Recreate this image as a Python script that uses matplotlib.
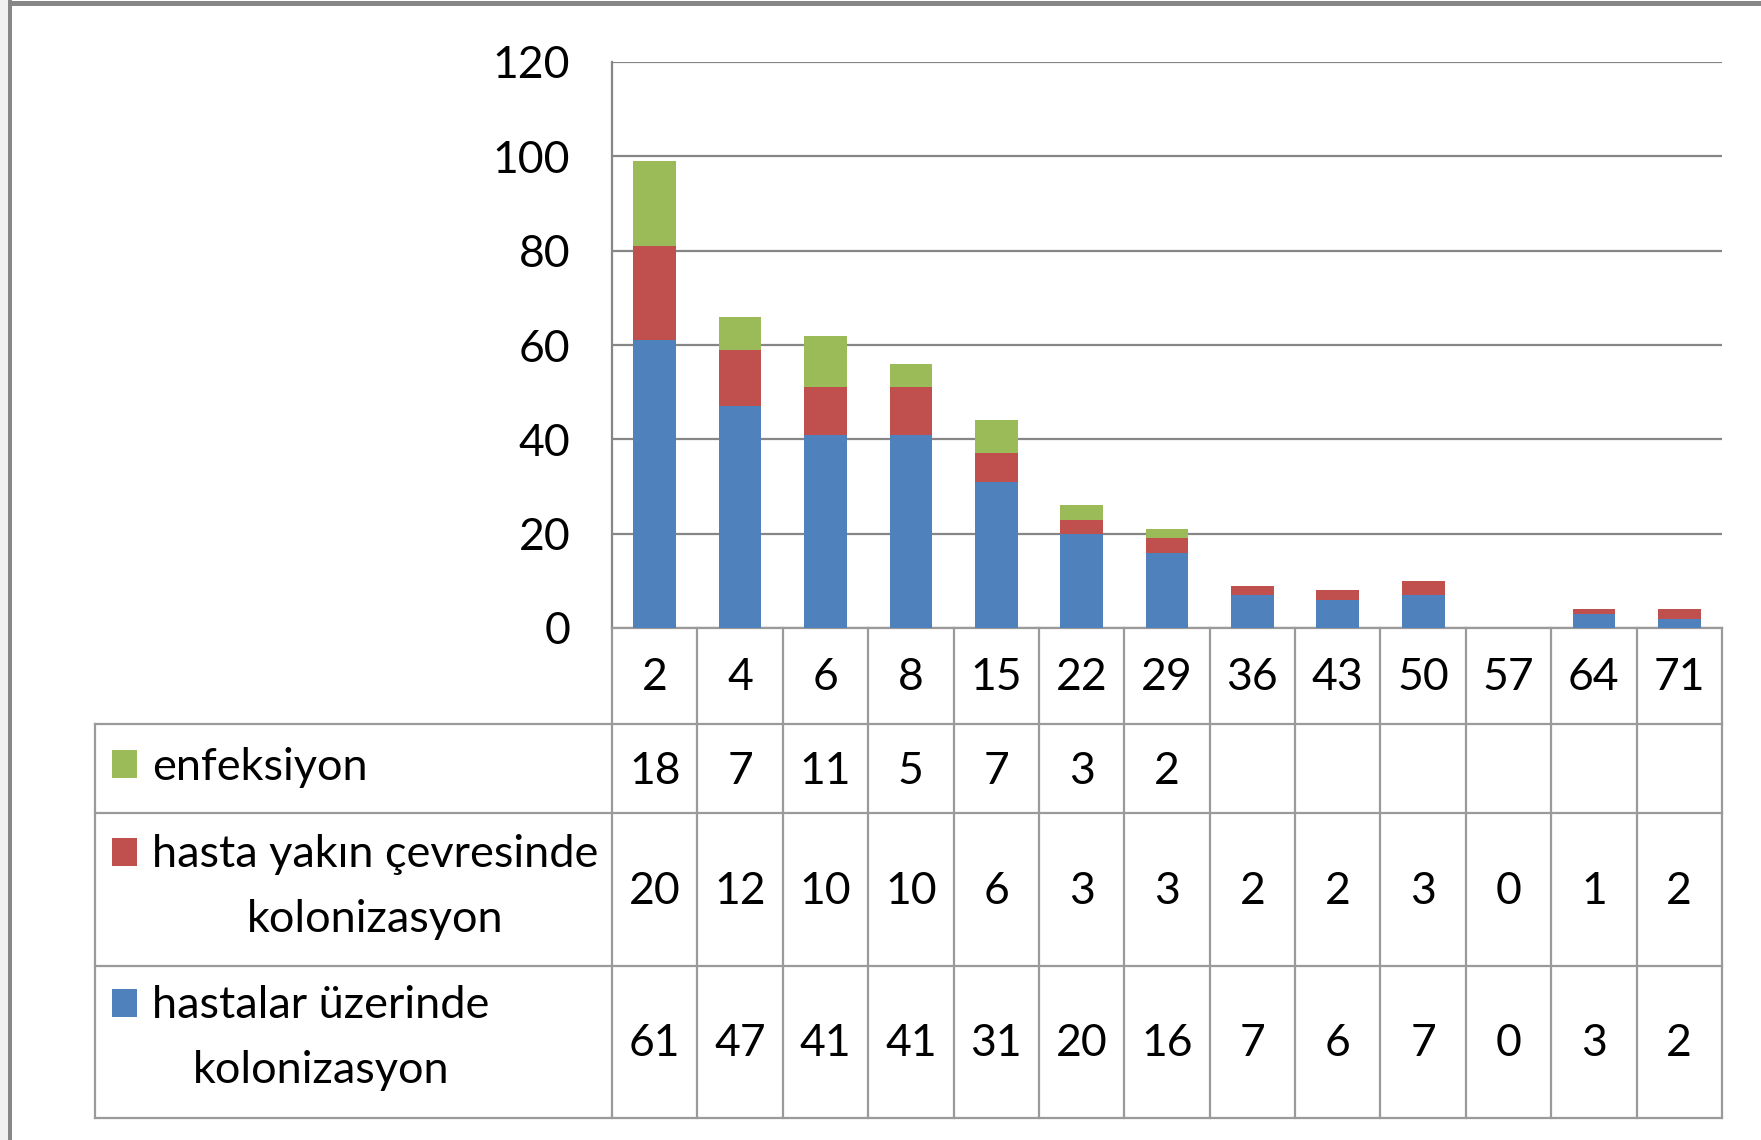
import matplotlib
matplotlib.use('Agg')
import matplotlib.pyplot as plt
import matplotlib.transforms as mtrans
from matplotlib.patches import Rectangle
from matplotlib.lines import Line2D
import numpy as np

# ---------------- data ----------------
categories = ['2', '4', '6', '8', '15', '22', '29', '36', '43', '50', '57', '64', '71']
hastalar = [61, 47, 41, 41, 31, 20, 16, 7, 6, 7, 0, 3, 2]
yakin = [20, 12, 10, 10, 6, 3, 3, 2, 2, 3, 0, 1, 2]
enfeksiyon = [18, 7, 11, 5, 7, 3, 2, None, None, None, None, None, None]
series_labels = ['enfeksiyon', 'hasta yakın çevresinde\nkolonizasyon', 'hastalar üzerinde\nkolonizasyon']
yticks = [0, 20, 40, 60, 80, 100, 120]

BLUE = '#4F81BD'
RED = '#C0504D'
GREEN = '#9BBB59'
GRID = '#868686'
TLINE = '#9a9a9a'
FONT = 'Lato'
FS = 32
FSL = 32.5

W, H = 1761, 1140
plt.rcParams['font.family'] = [FONT, 'DejaVu Sans']

fig = plt.figure(figsize=(W / 100, H / 100), dpi=100)
fig.patch.set_facecolor('white')

def fx(px):
    return px / W

def fy(py):
    return 1 - py / H

# frame decoration
fig.add_artist(Rectangle((0, 0), fx(8), 1, transform=fig.transFigure, color='#f0f0f0', lw=0))
fig.add_artist(Rectangle((fx(8), 0), fx(4), 1, transform=fig.transFigure, color='#878787', lw=0))
fig.add_artist(Rectangle((fx(8), fy(6)), 1, fy(1) - fy(6), transform=fig.transFigure, color='#878787', lw=0))

PL, PR, PT, PB = 612, 1722, 62, 628
ax = fig.add_axes([fx(PL), fy(PB), fx(PR) - fx(PL), (PB - PT) / H])

x = np.arange(len(categories))
h = np.array(hastalar, dtype=float)
y = np.array(yakin, dtype=float)
e = np.array([v if v is not None else 0 for v in enfeksiyon], dtype=float)

bw = 0.5
ax.bar(x, h, width=bw, color=BLUE, zorder=3)
ax.bar(x, y, width=bw, bottom=h, color=RED, zorder=3)
ax.bar(x, e, width=bw, bottom=h + y, color=GREEN, zorder=3)

ax.set_xlim(-0.5, len(categories) - 0.5)
ax.set_ylim(0, 120)
ax.set_yticks(yticks)
ax.set_yticklabels([str(t) for t in yticks], fontsize=FS)
ax.tick_params(axis='y', length=0, pad=30)
ax.set_xticks([])
ax.yaxis.grid(True, color=GRID, lw=1.6, zorder=0)
ax.set_axisbelow(True)
for s in ['top', 'right']:
    ax.spines[s].set_visible(False)
ax.spines['left'].set_color(GRID)
ax.spines['left'].set_linewidth(1.6)
ax.spines['bottom'].set_color(TLINE)
ax.spines['bottom'].set_linewidth(1.6)

# ---------------- data table ----------------
trans = mtrans.blended_transform_factory(ax.transData, fig.transFigure)
TL = 95
rows_y = [628, 724, 813, 966, 1118]

def hline(x0px, x1px, ypx):
    fig.add_artist(Line2D([fx(x0px), fx(x1px)], [fy(ypx), fy(ypx)], transform=fig.transFigure,
                          color=TLINE, lw=1.6))

for ry in rows_y[1:]:
    hline(TL, PR, ry)
# vertical lines
fig.add_artist(Line2D([fx(TL), fx(TL)], [fy(724), fy(1118)], transform=fig.transFigure, color=TLINE, lw=1.6))
for k in range(len(categories) + 1):
    xb = k - 0.5
    fig.add_artist(Line2D([xb, xb], [fy(628), fy(1118)], transform=trans, color=TLINE, lw=1.6))

# category labels
for i, c in enumerate(categories):
    fig.text(i, fy(678), c, transform=trans, ha='center', va='center', fontsize=FS)

row_centers = [771, 891, 1044]
row_values = [enfeksiyon, yakin, hastalar]
for rc, vals in zip(row_centers, row_values):
    for i, v in enumerate(vals):
        if v is None:
            continue
        fig.text(i, fy(rc), str(v), transform=trans, ha='center', va='center', fontsize=FS)

# row labels with legend keys
colors = [GREEN, RED, BLUE]
key_tops = [750, 838, 989]
text_centers = [767, 887, 1038]
for lab, col, kt, tc in zip(series_labels, colors, key_tops, text_centers):
    fig.add_artist(Rectangle((fx(112), fy(kt + 28)), fx(137) - fx(112), 28 / H,
                             transform=fig.transFigure, color=col, lw=0))
    fig.text(fx(152), fy(tc), lab, ha='left', va='center', multialignment='center',
             fontsize=FSL, linespacing=1.7)

fig.savefig('out.png', dpi=100, facecolor='white')
